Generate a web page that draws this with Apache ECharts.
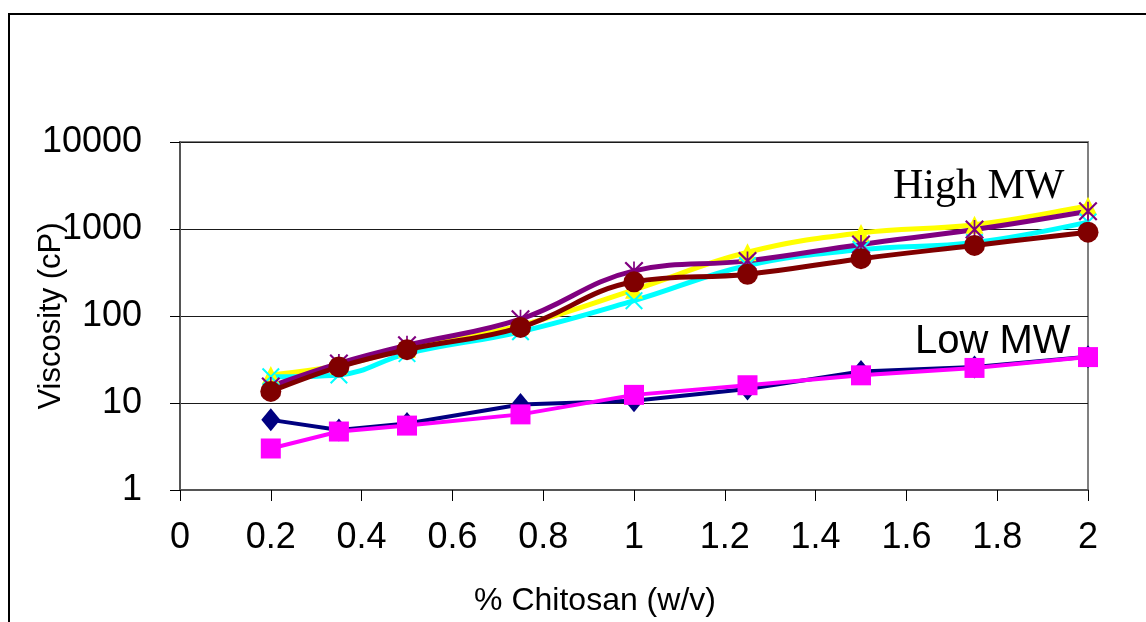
<!DOCTYPE html>
<html>
<head>
<meta charset="utf-8">
<title>Viscosity vs % Chitosan</title>
<script src="https://cdn.jsdelivr.net/npm/echarts@6/dist/echarts.min.js"></script>
<style>
  html, body { margin: 0; padding: 0; background: #fff; }
  #chart { width: 1146px; height: 622px; }
</style>
</head>
<body>
<div id="chart"></div>
<script>
// Chitosan concentration (% w/v)
const concentrations = [0.2, 0.35, 0.5, 0.75, 1, 1.25, 1.5, 1.75, 2];

// Viscosity (cP), low molecular weight samples
const lowNavy    = [6.4, 4.9, 5.8, 9.6, 10.6, 14.5, 23, 26, 34];
const lowMagenta = [3.0, 4.7, 5.5, 7.4, 12.4, 16.0, 20.8, 25.3, 33.7];

// Viscosity (cP), high molecular weight samples
const highYellow = [21, 27, 42, 78, 200, 540, 900, 1120, 1850];
const highCyan   = [20, 21, 37, 66, 150, 380, 580, 700, 1200];
const highPurple = [15.5, 28.5, 46, 92, 330, 430, 665, 985, 1600];
const highMaroon = [13.6, 26, 41, 74, 247, 302, 456, 648, 920];

// Axis tick values
const xTicks = [0, 0.2, 0.4, 0.6, 0.8, 1, 1.2, 1.4, 1.6, 1.8, 2];
const yTicks = [1, 10, 100, 1000, 10000];

const pair = vals => concentrations.map((x, i) => [x, vals[i]]);

// Marker shapes: a thin cross and an asterisk
const crossPath = 'path://M0,1.6 L1.6,0 L10,8.4 L18.4,0 L20,1.6 L11.6,10 L20,18.4 L18.4,20 L10,11.6 L1.6,20 L0,18.4 L8.4,10 Z';
const starPath = 'path://M0,1.6 L1.6,0 L10,8.4 L18.4,0 L20,1.6 L11.6,10 L20,18.4 L18.4,20 L10,11.6 L1.6,20 L0,18.4 L8.4,10 Z M9.1,0 L10.9,0 L10.9,20 L9.1,20 Z';

function lineSeries(name, vals, color, symbol, size, width, smooth) {
  return {
    name, type: 'line', data: pair(vals), smooth,
    symbol, symbolSize: size,
    showAllSymbol: true,
    lineStyle: { color, width },
    itemStyle: { color, borderWidth: 0 },
    emphasis: { disabled: true },
    z: 3
  };
}

const chart = echarts.init(document.getElementById('chart'), null, { renderer: 'canvas' });

const sans = '"Liberation Sans", Arial, sans-serif';

chart.setOption({
  animation: false,
  backgroundColor: '#ffffff',
  grid: {
    left: 180, top: 142, right: 58, bottom: 130,
    show: true, borderColor: '#808080', borderWidth: 2,
    backgroundColor: 'transparent'
  },
  xAxis: {
    type: 'value', min: 0, max: 2, interval: 0.2,
    name: '% Chitosan (w/v)', nameLocation: 'middle', nameGap: 95,
    nameMoveOverlap: false,
    nameTextStyle: {
      fontFamily: sans, fontSize: 32, color: '#000', lineHeight: 32,
      padding: [0, 78, 0, 0]
    },
    axisLine: { onZero: false, lineStyle: { color: '#555', width: 2 } },
    axisTick: { show: true, length: 11, lineStyle: { color: '#000', width: 1 } },
    axisLabel: {
      margin: 30, fontFamily: sans, fontSize: 36, color: '#000', lineHeight: 36,
      formatter: v => {
        const t = xTicks.find(k => Math.abs(k - v) < 1e-6);
        return t === undefined ? '' : String(t);
      }
    },
    splitLine: { show: false }
  },
  yAxis: {
    type: 'log', logBase: 10, min: 1, max: 10000, splitNumber: 4,
    name: 'Viscosity (cP)', nameLocation: 'middle', nameGap: 113, nameRotate: 90,
    nameMoveOverlap: false,
    nameTextStyle: { fontFamily: sans, fontSize: 31, color: '#000', lineHeight: 31 },
    axisLine: { lineStyle: { color: '#555', width: 2 } },
    axisTick: { show: true, length: 10, lineStyle: { color: '#000', width: 1 } },
    axisLabel: {
      margin: 38, fontFamily: sans, fontSize: 36, color: '#000',
      formatter: v => {
        const t = yTicks.find(k => Math.abs(k - v) / k < 1e-6);
        return t === undefined ? '' : String(t);
      }
    },
    splitLine: { show: true, lineStyle: { color: '#1a1a1a', width: 1 } }
  },
  series: [
    lineSeries('Low MW A', lowNavy, '#000080', 'diamond', [19, 23], 4, false),
    lineSeries('Low MW B', lowMagenta, '#FF00FF', 'rect', 20, 4, false),
    lineSeries('High MW A', highYellow, '#FFFF00', 'triangle', 18, 5, 0.4),
    lineSeries('High MW B', highCyan, '#00FFFF', crossPath, 18, 5, 0.4),
    lineSeries('High MW C', highPurple, '#800080', starPath, 19, 5, 0.4),
    lineSeries('High MW D', highMaroon, '#800000', 'circle', 21, 5, 0.4)
  ],
  graphic: [
    {
      type: 'rect', silent: true,
      shape: { x: 9, y: 14, width: 1400, height: 900 },
      style: { fill: 'none', stroke: '#000', lineWidth: 2 },
      z: 10
    },
    {
      type: 'text', silent: true, left: 893, top: 166,
      style: { text: 'High MW', font: '42px "Liberation Serif", "Times New Roman", serif', fill: '#000' },
      z: 10
    },
    {
      type: 'text', silent: true, left: 915, top: 322,
      style: { text: 'Low MW', font: '40px "Liberation Sans", Arial, sans-serif', fill: '#000' },
      z: 10
    }
  ]
});
</script>
</body>
</html>
